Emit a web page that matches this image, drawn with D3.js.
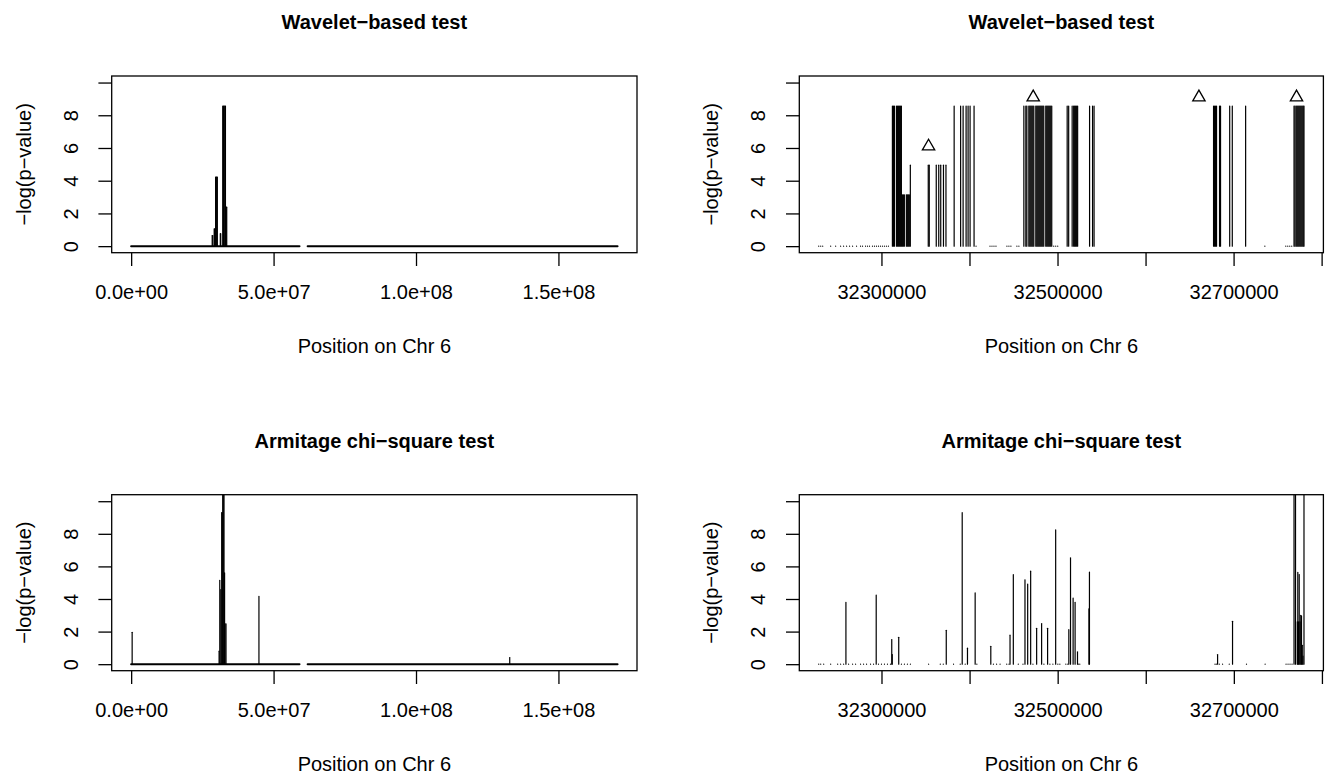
<!DOCTYPE html>
<html>
<head>
<meta charset="utf-8">
<script src="https://cdn.jsdelivr.net/npm/d3@7"></script>
<style>
  body { margin: 0; background: #fff; }
  svg { display: block; font-family: "Liberation Sans", Arial, Helvetica, sans-serif; }
</style>
</head>
<body>
<svg id="chart" width="1325" height="776"></svg>
<script>
// ---- data (positions in bp, values are -log(p)) ----

// stretches of the chromosome where every SNP sits at ~0
const chrSegments = [[0, 59100000], [61960000, 170750000]];

const waveletChr = [
    [28450000, 0.65], [28650000, 0.65], [29150000, 1.06], [29300000, 1.06],
    [29650000, 4.22], [29850000, 4.22], [30050000, 4.22], [30250000, 4.22],
    [31300000, 0.76], [31450000, 0.76],
    [32150000, 8.56], [32400000, 8.56], [32650000, 8.56], [32900000, 8.56], [33100000, 8.56],
    [33350000, 2.38], [33550000, 2.38]
];

const armitageChr = [
    [350000, 1.96], [30870000, 0.8], [31110000, 5.14], [31470000, 4.57],
    [31800000, 9.3], [31950000, 9.3], [32150000, 12], [32350000, 12], [32600000, 12],
    [32800000, 5.6], [32980000, 2.47], [33300000, 2.47],
    [44860000, 4.16], [132900000, 0.41]
];

const waveletMhc = [
    [32228730, 0], [32231000, 0], [32233260, 0], [32242310, 0], [32247960, 0], [32253620, 0],
    [32257010, 0], [32260410, 0], [32263800, 0], [32267200, 0], [32271720, 0], [32276240, 0],
    [32278510, 0], [32281900, 0], [32284160, 0], [32286430, 0], [32289820, 0], [32292080, 0],
    [32294340, 0], [32296610, 0], [32298870, 0], [32301130, 0], [32303390, 0], [32305660, 0],
    [32307920, 0],
    [32312440, 8.56], [32313570, 8.56], [32314710, 8.56], [32316970, 8.56], [32318100, 8.56],
    [32319230, 8.56], [32320360, 8.56], [32321490, 8.56], [32322630, 8.56],
    [32323760, 3.14], [32324890, 3.14], [32326020, 3.14], [32328280, 3.14], [32329410, 3.14],
    [32330540, 3.14], [32331670, 3.14],
    [32332800, 4.95], [32353170, 4.95], [32354300, 4.95], [32362250, 4.95], [32365080, 4.95],
    [32367340, 4.95], [32370450, 4.95], [32373280, 4.95],
    [32382580, 8.56], [32389930, 8.56], [32392760, 8.56], [32396150, 8.56], [32398420, 8.56],
    [32400680, 8.56], [32405200, 8.56],
    [32407460, 0], [32423300, 0], [32425560, 0], [32427820, 0], [32430090, 0], [32442530, 0],
    [32444790, 0], [32447060, 0], [32453840, 0], [32456110, 0],
    [32461760, 8.56], [32464020, 8.56], [32465160, 8.56], [32467420, 8.56], [32468550, 8.56],
    [32469680, 8.56], [32470810, 8.56], [32471940, 8.56], [32473070, 8.56], [32475340, 8.56],
    [32476470, 8.56], [32477600, 8.56], [32478730, 8.56], [32479860, 8.56], [32480990, 8.56],
    [32482120, 8.56], [32483260, 8.56], [32484390, 8.56], [32486650, 8.56], [32487780, 8.56],
    [32488910, 8.56], [32490040, 8.56], [32491170, 8.56], [32492310, 8.56], [32493440, 8.56],
    [32495700, 0], [32497960, 0], [32500230, 0],
    [32510970, 8.56], [32512670, 8.56], [32516630, 8.56], [32518330, 8.56], [32519460, 8.56],
    [32520590, 8.56], [32521720, 8.56], [32522850, 8.56], [32536420, 8.56], [32539820, 8.56],
    [32541510, 8.56],
    [32677250, 8.56], [32678380, 8.56], [32679510, 8.56], [32680640, 8.56], [32684040, 8.56],
    [32685170, 8.56], [32695580, 8.56], [32698520, 8.56], [32713680, 8.56],
    [32735520, 0], [32759270, 0], [32761530, 0], [32763800, 0], [32766060, 0],
    [32768660, 8.56], [32769790, 8.56], [32771150, 8.56], [32772280, 8.56], [32773410, 8.56],
    [32774540, 8.56], [32775670, 8.56], [32776800, 8.56], [32777940, 8.56], [32779070, 8.56],
    [32779970, 8.56]
];

// triangles marking the wavelet windows
const waveletMarkers = [[32353510, 6.1], [32472400, 9.1], [32660630, 9.1], [32771470, 9.1]];

const armitageMhc = [
    [32228730, 0], [32231000, 0], [32234390, 0], [32242310, 0], [32250230, 0], [32253620, 0],
    [32257010, 0], [32262670, 0], [32267200, 0], [32270590, 0], [32276240, 0], [32279640, 0],
    [32283030, 0], [32287560, 0], [32290950, 0], [32296610, 0], [32300000, 0], [32303390, 0],
    [32306790, 0], [32310180, 0], [32322620, 0], [32326020, 0], [32329410, 0], [32332800, 0],
    [32353510, 0], [32366740, 0], [32370130, 0], [32381790, 0], [32389360, 0], [32395020, 0],
    [32408260, 0], [32427030, 0], [32430650, 0], [32434610, 0], [32442190, 0], [32444790, 0],
    [32455310, 0], [32460630, 0], [32471940, 0], [32484390, 0], [32491170, 0], [32494570, 0],
    [32500220, 0], [32502490, 0], [32509270, 0], [32511530, 0], [32523410, 0], [32525110, 0],
    [32678610, 0], [32680080, 0], [32683480, 0], [32687210, 0], [32694790, 0], [32714360, 0],
    [32735510, 0], [32759270, 0], [32761530, 0], [32763800, 0], [32766060, 0],
    [32259620, 3.79], [32294000, 4.24], [32311650, 1.51], [32312220, 0.59], [32319570, 1.65],
    [32373530, 2.08], [32391630, 9.3], [32397620, 0.98], [32406330, 4.37], [32424090, 1.1],
    [32445920, 1.78], [32449660, 5.49], [32462890, 5.18], [32465950, 4.92], [32469340, 5.71],
    [32476130, 2.2], [32481780, 2.49], [32488570, 2.2], [32497730, 8.24],
    [32512670, 2.12], [32514590, 6.53], [32517530, 4.06], [32519790, 3.79], [32522510, 0.76],
    [32535500, 3.4], [32536080, 5.65], [32681550, 0.59], [32698520, 2.63],
    [32768320, 12], [32770010, 12], [32772050, 2.6], [32772620, 5.63], [32773410, 2.6],
    [32774200, 5.5], [32775100, 2.6], [32776010, 3.0], [32776800, 2.95], [32777710, 1.16],
    [32778500, 0.5], [32779630, 12]
];

// axis ticks
const chrTicks = [0, 5e7, 1e8, 1.5e8];
const mhcTicks = [32300000, 32400000, 32500000, 32600000, 32700000, 32800000];
const mhcTickLabels = [32300000, 32500000, 32700000];
const yTicks = [0, 2, 4, 6, 8, 10];
const yTickLabels = [0, 2, 4, 6, 8];

// ---- layout ----
const svg = d3.select("#chart");
svg.append("rect").attr("width", 1325).attr("height", 776).attr("fill", "#fff");

const cols = [[111.7, 637], [799.3, 1323.4]];
const rows = [[76, 252.7], [494.7, 670.7]];

// R style: 4% padding on the data range
const padExtent = ext => {
    const d = (ext[1] - ext[0]) * 0.04;
    return [ext[0] - d, ext[1] + d];
};

// 1.5e+08 style labels
const sci = d => {
    const [m, e] = d.toExponential(1).split("e");
    const n = +e;
    return `${m}e${n < 0 ? "-" : "+"}${String(Math.abs(n)).padStart(2, "0")}`;
};

const panels = [
    { title: "Wavelet\u2212based test", col: 0, row: 0, kind: "chr", points: waveletChr },
    { title: "Wavelet\u2212based test", col: 1, row: 0, kind: "mhc", points: waveletMhc, markers: waveletMarkers },
    { title: "Armitage chi\u2212square test", col: 0, row: 1, kind: "chr", points: armitageChr },
    { title: "Armitage chi\u2212square test", col: 1, row: 1, kind: "mhc", points: armitageMhc }
];

const fontSize = 20;

panels.forEach((p, i) => {
    const [x0, x1] = cols[p.col];
    const [y0, y1] = rows[p.row];

    const xExt = p.kind === "chr"
        ? [d3.min(chrSegments, s => s[0]), d3.max(chrSegments, s => s[1])]
        : d3.extent(p.points, d => d[0]);
    const x = d3.scaleLinear().domain(padExtent(xExt)).range([x0, x1]);
    const y = d3.scaleLinear().domain(padExtent([0, 10])).range([y1, y0]);

    const g = svg.append("g");

    g.append("clipPath").attr("id", "clip" + i)
        .append("rect")
        .attr("x", x0).attr("y", y0)
        .attr("width", x1 - x0).attr("height", y1 - y0);

    const plot = g.append("g").attr("clip-path", `url(#clip${i})`);

    if (p.kind === "chr") {
        plot.selectAll("line.base")
            .data(chrSegments)
            .join("line")
            .attr("class", "base")
            .attr("x1", d => x(d[0]))
            .attr("x2", d => x(d[1]))
            .attr("y1", y(0))
            .attr("y2", y(0))
            .attr("stroke", "#000")
            .attr("stroke-width", 2)
            .attr("stroke-linecap", "round");
    }

    // type = "h" spikes; zero values leave a round-capped dot
    plot.selectAll("line.spike")
        .data(p.points)
        .join("line")
        .attr("class", "spike")
        .attr("x1", d => x(d[0]))
        .attr("x2", d => x(d[0]))
        .attr("y1", y(0))
        .attr("y2", d => y(d[1]) - (d[1] === 0 ? 0.01 : 0))
        .attr("stroke", "#000")
        .attr("stroke-width", 1.2)
        .attr("stroke-linecap", "round");

    if (p.markers) {
        g.selectAll("path.marker")
            .data(p.markers)
            .join("path")
            .attr("class", "marker")
            .attr("d", d3.symbol(d3.symbolTriangle, 66))
            .attr("transform", d => `translate(${x(d[0])},${y(d[1])})`)
            .attr("fill", "none")
            .attr("stroke", "#000")
            .attr("stroke-width", 1.3);
    }

    // box
    g.append("rect")
        .attr("x", x0).attr("y", y0)
        .attr("width", x1 - x0).attr("height", y1 - y0)
        .attr("fill", "none")
        .attr("stroke", "#000")
        .attr("stroke-width", 1.3);

    // x axis
    const xAxis = d3.axisBottom(x)
        .tickSize(13.3)
        .tickSizeOuter(0);
    if (p.kind === "chr") {
        xAxis.tickValues(chrTicks).tickFormat(sci);
    } else {
        xAxis.tickValues(mhcTicks).tickFormat(d => mhcTickLabels.includes(d) ? d3.format("d")(d) : "");
    }
    const gx = g.append("g")
        .attr("transform", `translate(0,${y1})`)
        .call(xAxis)
        .attr("font-size", fontSize)
        .attr("font-family", null);
    gx.select(".domain").remove();
    gx.selectAll(".tick line").attr("stroke-width", 1.3);
    gx.selectAll(".tick text")
        .attr("y", 39)
        .attr("dy", "0.35em")
        .attr("fill", "#000");

    // y axis
    const gy = g.append("g")
        .attr("transform", `translate(${x0},0)`)
        .call(d3.axisLeft(y)
            .tickValues(yTicks)
            .tickSize(13.3)
            .tickSizeOuter(0)
            .tickFormat(d => yTickLabels.includes(d) ? d : ""))
        .attr("font-size", fontSize)
        .attr("font-family", null);
    gy.select(".domain").remove();
    gy.selectAll(".tick line").attr("stroke-width", 1.3);
    gy.selectAll(".tick text")
        .attr("x", null)
        .attr("dy", "0.35em")
        .attr("text-anchor", "middle")
        .attr("transform", "translate(-41,0) rotate(-90)")
        .attr("fill", "#000");

    // titles and axis labels
    g.append("text")
        .attr("x", (x0 + x1) / 2)
        .attr("y", y0 - 54)
        .attr("dy", "0.35em")
        .attr("text-anchor", "middle")
        .attr("font-size", 20)
        .attr("font-weight", "bold")
        .text(p.title);

    g.append("text")
        .attr("x", (x0 + x1) / 2)
        .attr("y", y1 + 93)
        .attr("dy", "0.35em")
        .attr("text-anchor", "middle")
        .attr("font-size", fontSize)
        .text("Position on Chr 6");

    g.append("text")
        .attr("transform", `translate(${x0 - 88},${(y0 + y1) / 2}) rotate(-90)`)
        .attr("dy", "0.35em")
        .attr("text-anchor", "middle")
        .attr("font-size", fontSize)
        .text("\u2212log(p\u2212value)");
});
</script>
</body>
</html>
